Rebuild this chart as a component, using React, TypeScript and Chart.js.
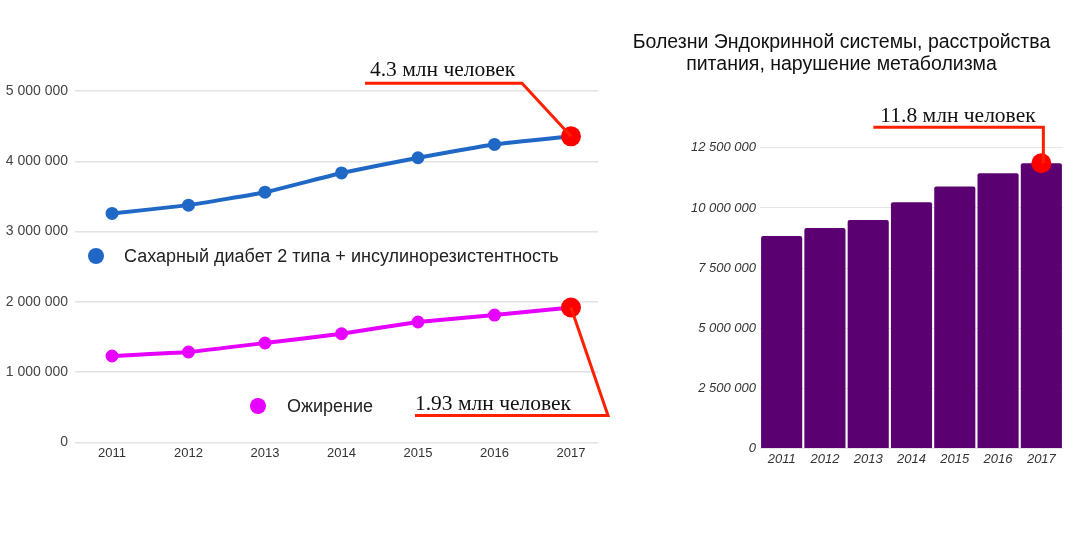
import { useEffect, useRef } from "react";
import { Chart, registerables } from "chart.js";

Chart.register(...registerables);

const years = ["2011", "2012", "2013", "2014", "2015", "2016", "2017"];
const diabetes = [3258000, 3376000, 3560000, 3834000, 4050000, 4240000, 4355000];
const obesity = [1229000, 1286000, 1414000, 1546000, 1713000, 1812000, 1920000];
const endocrine = [8830000, 9170000, 9500000, 10240000, 10890000, 11440000, 11860000];

const lineTicks = [0, 1000000, 2000000, 3000000, 4000000, 5000000];
const barTicks = [0, 2500000, 5000000, 7500000, 10000000, 12500000];

const seriesNames = ["Сахарный диабет 2 типа + инсулинорезистентность", "Ожирение"];
const lineNotes = ["4.3 млн человек", "1.93 млн человек"];
const barNote = "11.8 млн человек";
const barTitle = ["Болезни Эндокринной системы, расстройства", "питания, нарушение метаболизма"];

const BLUE = "#2068c6";
const PINK = "#e600ff";
const PURPLE = "#5b0070";
const RED = "#ff2000";
const SANS = "'Liberation Sans', Arial, sans-serif";
const SERIF = "'Liberation Serif', 'DejaVu Serif', serif";

const fmt = (v: number) => String(v).replace(/\B(?=(\d{3})+(?!\d))/g, " ");

function redDot(ctx: CanvasRenderingContext2D, x: number, y: number) {
  ctx.beginPath();
  ctx.arc(x, y, 10, 0, Math.PI * 2);
  ctx.fillStyle = "#ff0000";
  ctx.fill();
}

function note(ctx: CanvasRenderingContext2D, pts: [number, number][], text: string, tx: number, ty: number) {
  ctx.beginPath();
  ctx.moveTo(pts[0][0], pts[0][1]);
  pts.slice(1).forEach((p) => ctx.lineTo(p[0], p[1]));
  ctx.strokeStyle = RED;
  ctx.lineWidth = 3;
  ctx.lineJoin = "miter";
  ctx.stroke();
  ctx.font = `21.5px ${SERIF}`;
  ctx.fillStyle = "#111";
  ctx.textAlign = "left";
  ctx.textBaseline = "alphabetic";
  ctx.fillText(text, tx, ty);
}

const linePlugin = {
  id: "lineNotes",
  afterDatasetsDraw(chart: any) {
    const ctx = chart.ctx as CanvasRenderingContext2D;
    const area = chart.chartArea;
    ctx.save();
    // legend placed inside the plot
    const legend = [
      { color: BLUE, dx: 21, dy: 165, tx: 49 },
      { color: PINK, dx: 183, dy: 315, tx: 212 },
    ];
    legend.forEach((l, i) => {
      ctx.beginPath();
      ctx.arc(area.left + l.dx, area.top + l.dy, 8, 0, Math.PI * 2);
      ctx.fillStyle = l.color;
      ctx.fill();
      ctx.font = `18px ${SANS}`;
      ctx.fillStyle = "#222";
      ctx.textBaseline = "middle";
      ctx.textAlign = "left";
      ctx.fillText(seriesNames[i], area.left + l.tx, area.top + l.dy + 1);
    });

    const last = years.length - 1;
    const a = chart.getDatasetMeta(0).data[last];
    const b = chart.getDatasetMeta(1).data[last];
    redDot(ctx, a.x, a.y);
    redDot(ctx, b.x, b.y);
    note(ctx, [[a.x, a.y], [a.x - 49, a.y - 53], [a.x - 206, a.y - 53]], lineNotes[0], a.x - 201, a.y - 60);
    note(ctx, [[b.x, b.y], [b.x + 37, b.y + 108], [b.x - 156, b.y + 108]], lineNotes[1], b.x - 156, b.y + 103);
    ctx.restore();
  },
};

const barPlugin = {
  id: "barNote",
  afterDatasetsDraw(chart: any) {
    const ctx = chart.ctx as CanvasRenderingContext2D;
    const last = years.length - 1;
    const bar = chart.getDatasetMeta(0).data[last];
    ctx.save();
    redDot(ctx, bar.x, bar.y);
    note(ctx, [[bar.x + 2, bar.y], [bar.x + 2, bar.y - 36], [bar.x - 168, bar.y - 36]], barNote, bar.x - 161, bar.y - 41);
    ctx.restore();
  },
};

export default function App() {
  const lineRef = useRef<HTMLCanvasElement | null>(null);
  const barRef = useRef<HTMLCanvasElement | null>(null);

  useEffect(() => {
    const charts: Chart[] = [];
    Chart.defaults.font.family = SANS;

    if (lineRef.current) {
      charts.push(
        new Chart(lineRef.current, {
          type: "line",
          data: {
            datasets: [
              {
                label: seriesNames[0],
                data: years.map((y, i) => ({ x: Number(y), y: diabetes[i] })),
                borderColor: BLUE,
                backgroundColor: BLUE,
                borderWidth: 4,
                pointRadius: 4.5,
                tension: 0.1,
              },
              {
                label: seriesNames[1],
                data: years.map((y, i) => ({ x: Number(y), y: obesity[i] })),
                borderColor: PINK,
                backgroundColor: PINK,
                borderWidth: 4,
                pointRadius: 4.5,
                tension: 0.1,
              },
            ],
          },
          options: {
            animation: false,
            responsive: true,
            maintainAspectRatio: false,
            layout: { padding: { left: 0, top: 91, right: 22, bottom: 16 } },
            plugins: { legend: { display: false }, tooltip: { enabled: false } },
            scales: {
              x: {
                type: "linear",
                min: 2010.516,
                max: 2017.353,
                grid: { display: false, drawTicks: false },
                border: { display: false },
                ticks: {
                  stepSize: 1,
                  includeBounds: false,
                  padding: 3,
                  color: "#333",
                  font: { size: 13 },
                  callback: (v: any) => String(v),
                },
              },
              y: {
                min: 0,
                max: 5000000,
                afterBuildTicks: (s: any) => {
                  s.ticks = lineTicks.map((v) => ({ value: v }));
                },
                afterFit: (s: any) => {
                  s.width = 75;
                },
                grid: { color: "#e2e2e2", lineWidth: 1.5, drawTicks: false },
                border: { display: false },
                ticks: {
                  padding: 7,
                  color: "#444",
                  font: { size: 14 },
                  callback: (v: any) => fmt(Number(v)),
                },
              },
            },
          },
          plugins: [linePlugin],
        })
      );
    }

    if (barRef.current) {
      charts.push(
        new Chart(barRef.current, {
          type: "bar",
          data: {
            labels: years,
            datasets: [
              {
                label: barTitle.join(" "),
                data: endocrine,
                backgroundColor: PURPLE,
                barPercentage: 0.95,
                categoryPercentage: 1,
                borderRadius: 2,
              },
            ],
          },
          options: {
            animation: false,
            responsive: true,
            maintainAspectRatio: false,
            layout: { padding: { left: 0, top: 0, right: 12, bottom: 10 } },
            plugins: {
              legend: { display: false },
              tooltip: { enabled: false },
              title: {
                display: true,
                text: barTitle,
                color: "#111",
                font: { size: 19.5, weight: "normal", lineHeight: 1.15 },
                padding: { top: 31, bottom: 72 },
              },
            },
            scales: {
              x: {
                grid: { display: false, drawTicks: false },
                border: { display: false },
                ticks: { padding: 3, color: "#333", font: { size: 13, style: "italic" } },
              },
              y: {
                min: 0,
                max: 12500000,
                afterBuildTicks: (s: any) => {
                  s.ticks = barTicks.map((v) => ({ value: v }));
                },
                afterFit: (s: any) => {
                  s.width = 140;
                },
                grid: { color: "#e6e6e6", drawTicks: false },
                border: { display: false },
                ticks: {
                  padding: 4,
                  color: "#333",
                  font: { size: 13, style: "italic" },
                  callback: (v: any) => fmt(Number(v)),
                },
              },
            },
          },
          plugins: [barPlugin],
        })
      );
    }

    return () => charts.forEach((c) => c.destroy());
  }, []);

  return (
    <div style={{ position: "absolute", left: 0, top: 0, width: 1075, height: 544, background: "#fff" }}>
      <div style={{ position: "absolute", left: 0, top: 0, width: 620, height: 480 }}>
        <canvas ref={lineRef} />
      </div>
      <div style={{ position: "absolute", left: 620, top: 0, width: 455, height: 480 }}>
        <canvas ref={barRef} />
      </div>
    </div>
  );
}
